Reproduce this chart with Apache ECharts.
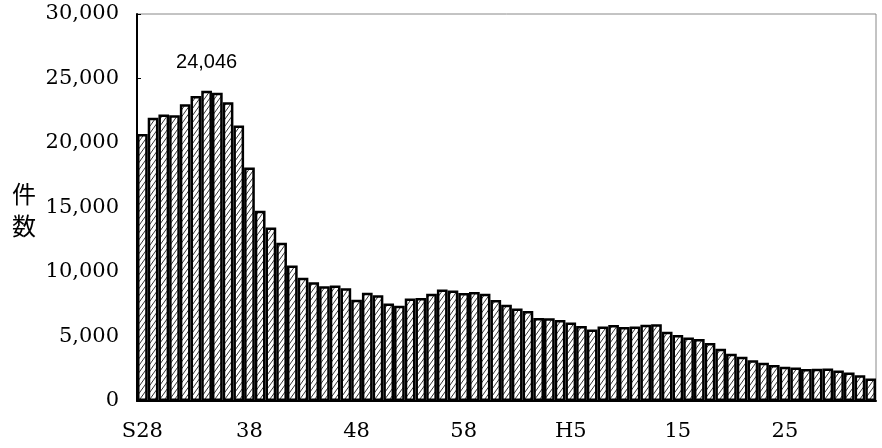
<!DOCTYPE html>
<html>
<head>
<meta charset="utf-8">
<script src="https://cdn.jsdelivr.net/npm/echarts@6/dist/echarts.min.js"></script>
<style>
html,body{margin:0;padding:0;background:#fff;}
#chart{width:882px;height:448px;}
</style>
</head>
<body>
<div id="chart"></div>
<script>
// Categories: S28 (1953) .. R3 (2021)
const categories = [
  "S28","S29","S30","S31","S32","S33","S34","S35","S36","S37",
  "S38","S39","S40","S41","S42","S43","S44","S45","S46","S47",
  "S48","S49","S50","S51","S52","S53","S54","S55","S56","S57",
  "S58","S59","S60","S61","S62","S63","H1","H2","H3","H4",
  "H5","H6","H7","H8","H9","H10","H11","H12","H13","H14",
  "H15","H16","H17","H18","H19","H20","H21","H22","H23","H24",
  "H25","H26","H27","H28","H29","H30","R1","R2","R3"
];
// Displayed tick labels (every 10th category)
const xTickLabels = ["S28","38","48","58","H5","15","25"];
const counts = [
  20700,21950,22200,22150,23000,23650,24046,23900,23150,21350,
  18100,14750,13450,12270,10500,9550,9200,8900,8950,8750,
  7850,8400,8200,7550,7380,7950,7990,8320,8650,8570,
  8380,8450,8320,7830,7460,7180,6980,6430,6420,6270,
  6090,5810,5550,5780,5890,5740,5780,5910,5940,5370,
  5120,4930,4800,4500,4050,3670,3430,3150,2970,2790,
  2660,2600,2480,2500,2520,2370,2200,1990,1750
];
const peakIndex = 6;
const yTicks = {min:0, max:30000, interval:5000};

// hatch pattern (light upward diagonal)
const pc = document.createElement('canvas');
pc.width = 5; pc.height = 7;
const ctx = pc.getContext('2d');
ctx.fillStyle = '#fff'; ctx.fillRect(0,0,5,7);
ctx.strokeStyle = '#333'; ctx.lineWidth = 1;
[-5,0,5].forEach(dx=>{
  ctx.beginPath();
  ctx.moveTo(dx-0.5,7.7); ctx.lineTo(dx+5.5,-0.7);
  ctx.stroke();
});

const chart = echarts.init(document.getElementById('chart'), null, {renderer:'canvas'});
const data = counts.map((v,i)=> i===peakIndex ? {
  value: v,
  label: {show:true, position:'top', distance:18,
    formatter: p => p.value.toLocaleString('en-US'),
    fontFamily:'Liberation Sans, Arial, sans-serif', fontSize:20, color:'#000'}
} : v);

chart.setOption({
  animation:false,
  backgroundColor:'#fff',
  grid:{left:137, right:6, top:14, bottom:47, show:true, borderColor:'#888', borderWidth:1, containLabel:false},
  xAxis:{
    type:'category', data:categories,
    axisLine:{show:true, lineStyle:{color:'#000', width:2}},
    axisTick:{show:false},
    axisLabel:{
      interval:9, margin:20, color:'#000',
      fontFamily:'DejaVu Serif, serif', fontSize:21,
      formatter:(v,i)=> xTickLabels[Math.round(i/10)]
    },
    splitLine:{show:false}
  },
  yAxis:{
    type:'value', min:yTicks.min, max:yTicks.max, interval:yTicks.interval,
    axisLine:{show:true, lineStyle:{color:'#000', width:2}},
    axisTick:{show:true, inside:true, length:4, lineStyle:{color:'#000', width:1}},
    axisLabel:{margin:18, color:'#000', fontFamily:'DejaVu Serif, serif', fontSize:21,
      formatter: v => v.toLocaleString('en-US')},
    splitLine:{show:false}
  },
  graphic:[{
    type:'text', left:12, top:178,
    style:{text:'件\n数', font:'24px "Noto Sans CJK JP"', fill:'#000', lineHeight:32}
  }],
  series:[{
    type:'bar', data:data, barCategoryGap:'0%',
    itemStyle:{color:{image:pc, repeat:'repeat'}, borderColor:'#000', borderWidth:2.5}
  }]
});
</script>
</body>
</html>
